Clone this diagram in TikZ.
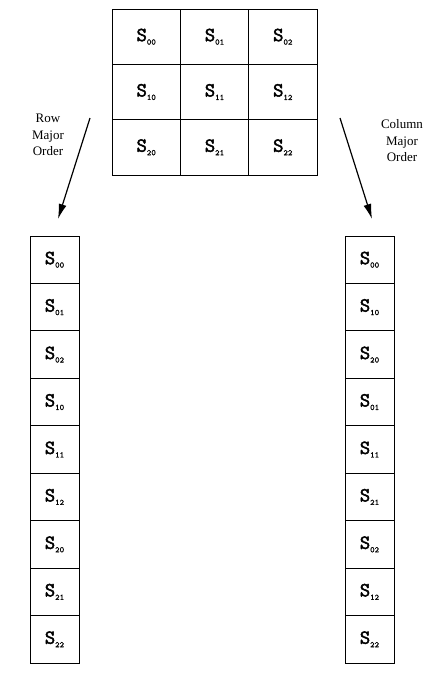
\documentclass[tikz,border=0pt]{standalone}
\usepackage{fontspec}
\setmainfont{Liberation Serif}
\newfontfamily\cellfont[FakeBold=2.4]{Latin Modern Mono}
\newfontfamily\subfont[FakeBold=0.8]{Latin Modern Mono}
\usetikzlibrary{arrows.meta}

\newcommand{\elem}[1]{{\cellfont\fontsize{20}{20}\selectfont S\raisebox{-3.5pt}{\subfont\fontsize{8.5}{8.5}\selectfont #1}}}

\tikzset{
	gridcell/.style={draw,line width=0.9pt,minimum width=68.3pt,minimum height=55.3pt,inner sep=0pt},
	listcell/.style={draw,line width=0.9pt,minimum width=49pt,minimum height=47.45pt,inner sep=0pt},
	ordertext/.style={align=center,font=\fontsize{13}{16.5}\selectfont}
}

\begin{document}
\begin{tikzpicture}[x=1pt,y=1pt,>={Latex[length=15pt,width=8pt]}]
			\useasboundingbox (0,0) rectangle (424,-681);
			% the 3x3 matrix
			\foreach \r in {0,1,2}{
				\foreach \c in {0,1,2}{
					\node[gridcell] (m\r\c) at (146.2+68.3*\c,-36.7-55.3*\r) {\elem{\r\c}};
				}
			}
			% row major list
			\foreach \e [count=\i from 0] in {00,01,02,10,11,12,20,21,22}{
				\node[listcell] (row\i) at (54.5,-259.7-47.45*\i) {\elem{\e}};
			}
			% column major list
			\foreach \e [count=\i from 0] in {00,10,20,01,11,21,02,12,22}{
				\node[listcell] (col\i) at (369.5,-259.7-47.45*\i) {\elem{\e}};
			}
			
			\node[ordertext] (rowlabel) at (48,-135) {Row\\Major\\Order};
			\node[ordertext] (collabel) at (402,-141) {Column\\Major\\Order};
			
			\coordinate (rowstart) at (90,-118);
			\coordinate (rowend) at (58,-219);
			\coordinate (colstart) at (340,-118);
			\coordinate (colend) at (372,-219);
			\draw[->,line width=1.2pt] (rowstart) -- (rowend);
			\draw[->,line width=1.2pt] (colstart) -- (colend);
		\end{tikzpicture}
\end{document}
